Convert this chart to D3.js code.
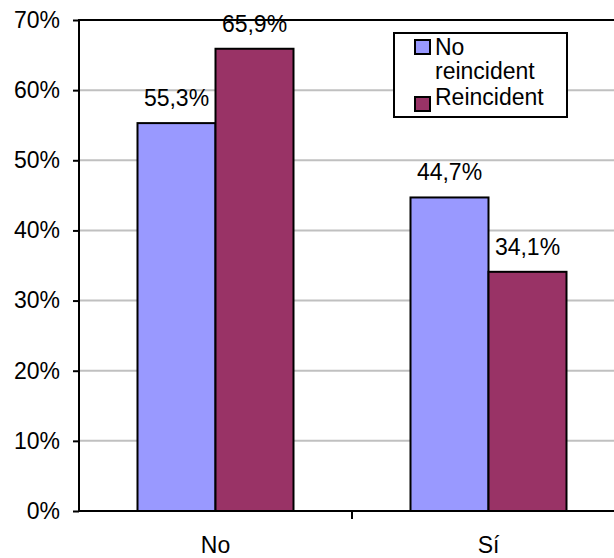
<!DOCTYPE html>
<html>
<head>
<meta charset="utf-8">
<script src="https://cdnjs.cloudflare.com/ajax/libs/d3/7.8.5/d3.min.js"></script>
<style>
  body{margin:0;background:#fff;}
  text{font-family:Arial,"Liberation Sans",sans-serif;}
</style>
</head>
<body>
<svg id="chart" width="614" height="558"></svg>
<script>
// data
let categories = ["No", "Sí"];
let series = ["No reincident", "Reincident"];
let values_noreinc = [0.553, 0.447];
let values_reinc   = [0.659, 0.341];
let yticks = [0, 0.1, 0.2, 0.3, 0.4, 0.5, 0.6, 0.7];
let colors = ["#9999ff", "#993366"];

let svg = d3.select("#chart");
let pl=79, pr=625, pt=20, pb=511;
let fs = 23;

let x0 = d3.scaleBand().domain(categories).range([pl, pr]).padding(0);
let x1 = d3.scaleBand().domain(series).range([0, x0.bandwidth()]).paddingInner(0).paddingOuter(0.75);
let y  = d3.scaleLinear().domain([0, 0.7]).range([pb, pt]);

let rows = categories.map((c,i)=>({cat:c, vals:[values_noreinc[i], values_reinc[i]]}));

// gridlines
svg.append("g").selectAll("line")
    .data(yticks.filter(d=>d>0 && d<0.7))
    .join("line")
    .attr("x1", pl).attr("x2", 614)
    .attr("y1", d=>y(d)).attr("y2", d=>y(d))
    .attr("stroke", "#c0c0c0").attr("stroke-width", 2);

// top border
svg.append("line")
    .attr("x1", pl).attr("x2", 614)
    .attr("y1", y(0.7)).attr("y2", y(0.7))
    .attr("stroke", "#000").attr("stroke-width", 2);

// bars
let groups = svg.append("g").selectAll("g")
    .data(rows)
    .join("g")
    .attr("transform", d=>`translate(${x0(d.cat)},0)`);

groups.selectAll("rect")
    .data(d=>d.vals.map((v,j)=>({s:series[j], v:v, j:j})))
    .join("rect")
    .attr("x", d=>x1(d.s))
    .attr("y", d=>y(d.v))
    .attr("width", x1.bandwidth())
    .attr("height", d=>y(0)-y(d.v))
    .attr("fill", d=>colors[d.j])
    .attr("stroke", "#000").attr("stroke-width", 2);

groups.selectAll("text")
    .data(d=>d.vals.map((v,j)=>({s:series[j], v:v})))
    .join("text")
    .attr("x", d=>x1(d.s)+x1.bandwidth()/2)
    .attr("y", d=>y(d.v)-17)
    .attr("text-anchor", "middle")
    .attr("font-size", fs)
    .text(d=>(d.v*100).toFixed(1).replace(".", ",")+"%");

// y axis
let yaxis = svg.append("g")
    .attr("transform", `translate(${pl},0)`)
    .call(d3.axisLeft(y).tickValues(yticks).tickSize(6).tickPadding(13).tickFormat(d3.format(".0%")));
yaxis.select(".domain").attr("stroke-width", 2).attr("d", `M0,${pb+1}V${pt-1}`);
yaxis.selectAll(".tick line").attr("stroke-width", 2);
yaxis.selectAll(".tick text").attr("font-size", fs).attr("font-family", null).attr("fill", "#000");

// x axis
let xaxis = svg.append("g")
    .attr("transform", `translate(0,${pb})`)
    .call(d3.axisBottom(x0).tickSize(0).tickPadding(26));
xaxis.select(".domain").attr("stroke-width", 2).attr("d", `M${pl},0H614`);
xaxis.selectAll(".tick text").attr("font-size", fs).attr("font-family", null).attr("fill", "#000");
svg.append("g").selectAll("line")
    .data(categories.slice(1))
    .join("line")
    .attr("x1", d=>x0(d)).attr("x2", d=>x0(d))
    .attr("y1", pb).attr("y2", pb+8)
    .attr("stroke", "#000").attr("stroke-width", 2);

// legend
let lg = svg.append("g");
lg.append("rect")
    .attr("x", 394).attr("y", 33).attr("width", 173).attr("height", 84)
    .attr("fill", "#fff").attr("stroke", "#000").attr("stroke-width", 2);
let legendItems = [
    {lines:["No", "reincident"], sy:40},
    {lines:["Reincident"], sy:97}
];
legendItems.forEach((it,i)=>{
    lg.append("rect")
        .attr("x", 415).attr("y", it.sy).attr("width", 15).attr("height", 14)
        .attr("fill", colors[i]).attr("stroke", "#000").attr("stroke-width", 2);
});
lg.append("text").attr("x", 435).attr("y", 55).attr("font-size", fs).text("No");
lg.append("text").attr("x", 435).attr("y", 79).attr("font-size", fs).text("reincident");
lg.append("text").attr("x", 435).attr("y", 105).attr("font-size", fs).text("Reincident");
</script>
</body>
</html>
